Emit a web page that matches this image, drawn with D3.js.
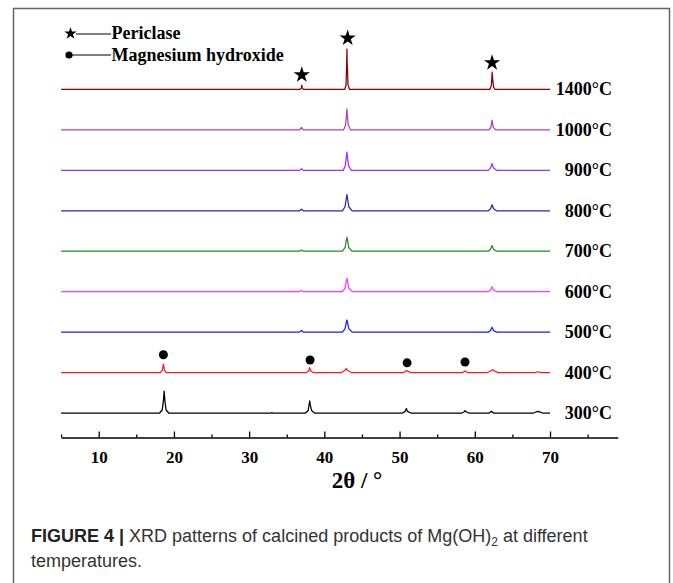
<!DOCTYPE html>
<html>
<head>
<meta charset="utf-8">
<script src="https://cdn.jsdelivr.net/npm/d3@7"></script>
<style>
  body { margin: 0; background: #fff; }
  svg { display: block; }
</style>
</head>
<body>
<div id="chart"></div>
<script>
// ---- data (2theta in degrees, intensity in a.u.) ----
var temps = ["300°C", "400°C", "500°C", "600°C", "700°C", "800°C", "900°C", "1000°C", "1400°C"];
var offsets = [0, 100, 200, 300, 400, 500, 600, 700, 800];

var s300 = [[5,0],[18.1,0],[18.45,8],[18.6,30],[18.7,54],[18.8,30],[18.95,8],[19.3,0],[32.9,0],[33.0,1],[33.1,0],
  [37.5,0],[37.85,6],[37.95,18],[38.05,30],[38.15,18],[38.3,6],[38.7,0],[50.4,0],[50.75,4],[50.9,11],[51.05,4],[51.5,0],
  [58.3,0],[58.6,3],[58.7,6],[58.85,3],[59.2,0],[61.9,0],[62.2,4],[62.5,0],[67.8,0],[68.2,3],[68.4,4],[68.7,2],[69.0,0],[70,0]];
var s400 = [[5,0],[18.2,0],[18.45,5],[18.6,21],[18.75,5],[19.0,0],[37.6,0],[37.9,4],[38.05,12],[38.2,4],[38.5,0],
  [42.3,0],[42.7,5],[42.9,10],[43.1,5],[43.6,0],[50.5,0],[50.8,3],[50.95,5],[51.1,3],[51.5,0],[58.4,0],[58.7,4],[59.0,0],
  [61.7,0],[62.1,4],[62.35,7],[62.6,4],[63.1,0],[68.0,0],[68.4,2],[68.8,0],[70,0]];
var s500 = [[5,0],[36.7,0],[36.95,4],[37.2,0],[42.4,0],[42.75,8],[42.9,22],[43.0,30],[43.1,22],[43.25,8],[43.7,0],
  [61.8,0],[62.1,4],[62.3,12],[62.5,4],[62.9,0],[70,0]];
var s600 = [[5,0],[36.7,0],[36.95,3],[37.2,0],[42.4,0],[42.75,9],[42.9,24],[43.0,33],[43.1,24],[43.25,9],[43.7,0],
  [61.8,0],[62.1,4],[62.3,12],[62.5,4],[62.9,0],[70,0]];
var s700 = [[5,0],[36.7,0],[36.95,3],[37.2,0],[42.4,0],[42.75,9],[42.9,25],[43.0,35],[43.1,25],[43.25,9],[43.7,0],
  [61.8,0],[62.1,5],[62.3,14],[62.5,5],[62.9,0],[70,0]];
var s800 = [[5,0],[36.7,0],[36.95,4],[37.2,0],[42.4,0],[42.75,10],[42.9,28],[43.0,40],[43.1,28],[43.25,10],[43.7,0],
  [61.8,0],[62.1,5],[62.3,15],[62.5,5],[62.9,0],[70,0]];
var s900 = [[5,0],[36.7,0],[36.95,4],[37.2,0],[42.5,0],[42.78,11],[42.92,32],[43.0,45],[43.08,32],[43.22,11],[43.6,0],
  [61.8,0],[62.1,6],[62.3,17],[62.5,6],[62.9,0],[70,0]];
var s1000 = [[5,0],[36.7,0],[36.95,6],[37.2,0],[42.55,0],[42.82,12],[42.94,36],[43.0,52],[43.06,36],[43.18,12],[43.5,0],
  [61.9,0],[62.15,7],[62.3,24],[62.45,7],[62.8,0],[70,0]];
var s1400 = [[5,0],[36.75,0],[36.95,4],[37.0,11],[37.05,4],[37.25,0],[42.7,0],[42.88,10],[42.96,60],[43.0,100],[43.04,60],
  [43.08,48],[43.14,12],[43.35,0],[62.0,0],[62.2,10],[62.27,30],[62.31,43],[62.36,30],[62.42,18],[62.5,6],[62.7,0],[70,0]];
var series = [s300, s400, s500, s600, s700, s800, s900, s1000, s1400];

// marker positions (2theta, absolute a.u. on the stacked scale)
var periclaseMarks = [[37.0, 836], [43.1, 927], [62.3, 866]];
var brucitesMarks = [[18.6, 144], [38.1, 131], [51.0, 124], [58.7, 126]];

var majorTicks = [10, 20, 30, 40, 50, 60, 70];
var minorTicks = [5, 15, 25, 35, 45, 55, 65, 75];

// ---- styles ----
var colors = ["#000000", "#ff1a1a", "#1a1aff", "#ff33ff", "#1f8f1f", "#2a2a99", "#9b30ff", "#b040b0", "#8b0000"];
var serif = "'Liberation Serif', 'Times New Roman', serif";
var sans = "'Liberation Sans', Arial, sans-serif";

var W = 673, H = 583;
var svg = d3.select("#chart").append("svg").attr("width", W).attr("height", H);

// frame
svg.append("rect").attr("x", 13.5).attr("y", 8.5).attr("width", 656).attr("height", 600)
  .attr("fill", "none").attr("stroke", "#666").attr("stroke-width", 1.5);

var x = d3.scaleLinear().domain([5, 79]).range([61.1, 617.7]);
var y = d3.scaleLinear().domain([0, 1000]).range([413, 8.6]);

var line = d3.line().x(function(d) { return x(d[0]); });

// one trace per temperature
series.forEach(function(s, i) {
  line.y(function(d) { return y(d[1] + offsets[i]); });
  svg.append("path").datum(s)
    .attr("d", line)
    .attr("fill", "none")
    .attr("stroke", colors[i])
    .attr("stroke-width", 1.25)
    .attr("stroke-linejoin", "round");

  svg.append("text")
    .attr("x", 612).attr("y", y(offsets[i]) + 6)
    .attr("text-anchor", "end")
    .attr("font-family", serif).attr("font-weight", "bold").attr("font-size", "18px")
    .text(temps[i]);
});

// markers
svg.selectAll("path.star").data(periclaseMarks).enter().append("path")
  .attr("class", "star")
  .attr("d", d3.symbol().type(d3.symbolStar).size(82))
  .attr("transform", function(d) { return "translate(" + x(d[0]) + "," + y(d[1]) + ")"; })
  .attr("fill", "#000");

svg.selectAll("circle.dot").data(brucitesMarks).enter().append("circle")
  .attr("class", "dot")
  .attr("cx", function(d) { return x(d[0]); })
  .attr("cy", function(d) { return y(d[1]); })
  .attr("r", 4.5)
  .attr("fill", "#000");

// x axis
var gx = svg.append("g").attr("transform", "translate(0,437.5)");
gx.call(d3.axisBottom(x).tickValues(majorTicks).tickSize(-6).tickSizeOuter(0).tickPadding(13)
  .tickFormat(d3.format("d")));
gx.select(".domain").attr("stroke-width", 1.6);
gx.selectAll(".tick line").attr("stroke-width", 1.3);
gx.selectAll(".tick text").attr("font-family", serif).attr("font-weight", "bold").attr("font-size", "17px");

var gm = svg.append("g").attr("transform", "translate(0,437.5)");
gm.call(d3.axisBottom(x).tickValues(minorTicks).tickSize(-3).tickSizeOuter(0).tickFormat(""));
gm.select(".domain").remove();
gm.selectAll(".tick line").attr("stroke-width", 1.3);

svg.append("text").attr("x", 357).attr("y", 488).attr("text-anchor", "middle")
  .attr("font-family", serif).attr("font-weight", "bold").attr("font-size", "23px")
  .text("2θ / °");

// legend
var lg = svg.append("g").attr("font-family", serif).attr("font-weight", "bold").attr("font-size", "18px");
lg.append("path").attr("d", d3.symbol().type(d3.symbolStar).size(48)).attr("transform", "translate(70.5,33.5)");
lg.append("line").attr("x1", 76).attr("x2", 111).attr("y1", 34).attr("y2", 34).attr("stroke", "#000").attr("stroke-width", 1);
lg.append("text").attr("x", 111.5).attr("y", 38.5).text("Periclase");
lg.append("circle").attr("cx", 69).attr("cy", 55).attr("r", 3.6);
lg.append("line").attr("x1", 72).attr("x2", 111).attr("y1", 55).attr("y2", 55).attr("stroke", "#000").attr("stroke-width", 1);
lg.append("text").attr("x", 111.5).attr("y", 61).text("Magnesium hydroxide");

// caption
var cap = svg.append("text").attr("x", 31).attr("y", 542)
  .attr("font-family", sans).attr("font-size", "18px").attr("fill", "#333");
cap.append("tspan").attr("font-weight", "bold").attr("fill", "#222").text("FIGURE 4 | ");
cap.append("tspan").text("XRD patterns of calcined products of Mg(OH)");
cap.append("tspan").attr("font-size", "12px").attr("dy", 4).text("2");
cap.append("tspan").attr("dy", -4).text(" at different");
svg.append("text").attr("x", 31).attr("y", 567)
  .attr("font-family", sans).attr("font-size", "18px").attr("fill", "#333")
  .text("temperatures.");
</script>
</body>
</html>
